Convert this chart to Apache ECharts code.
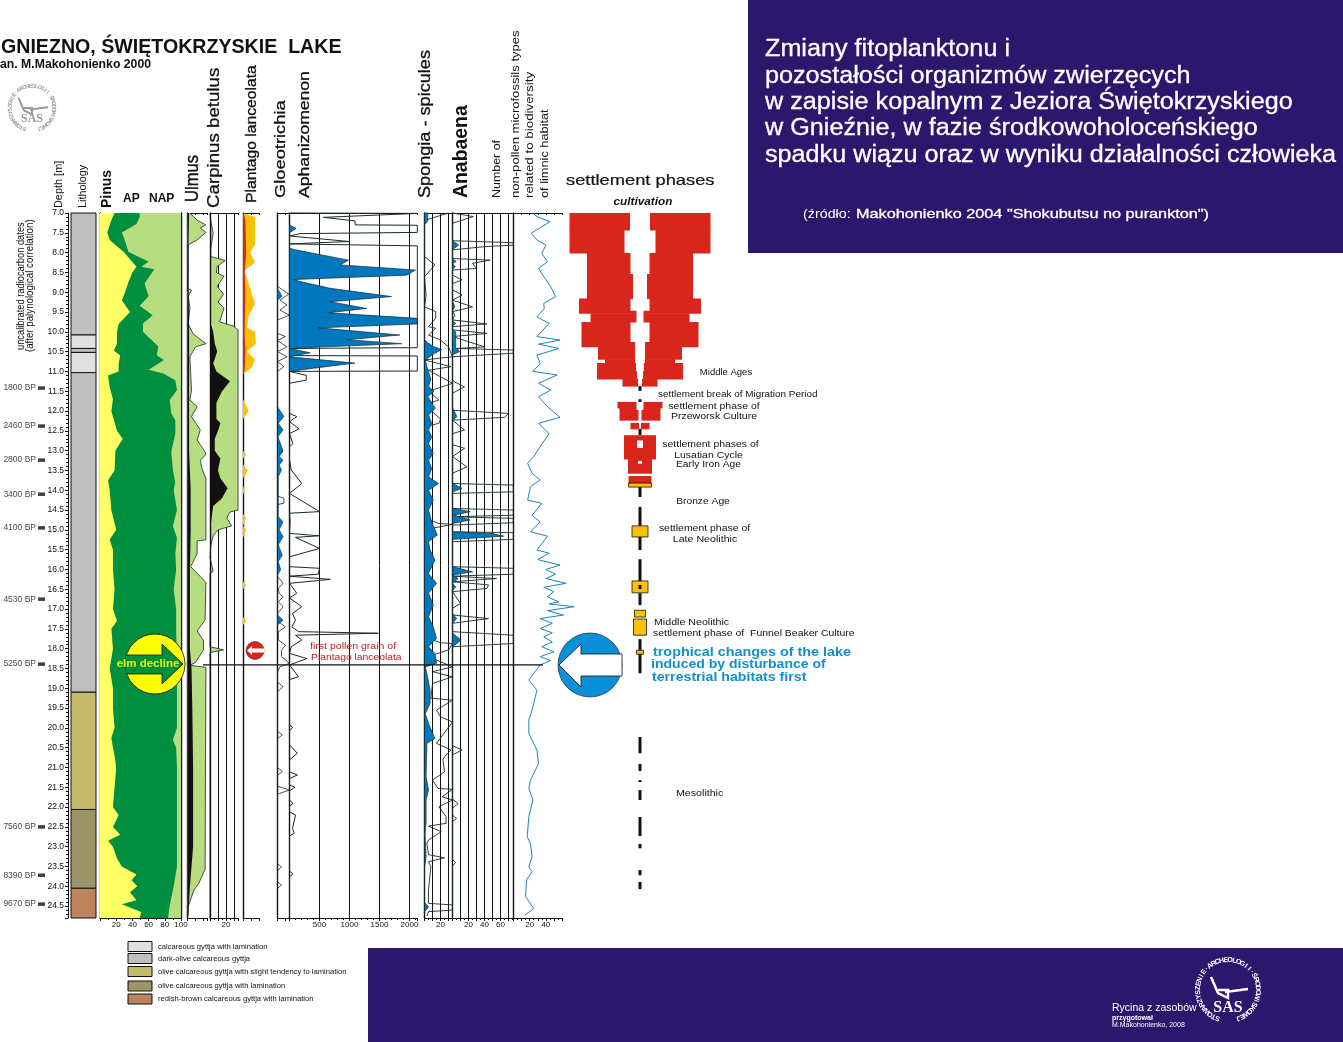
<!DOCTYPE html>
<html><head><meta charset="utf-8">
<style>html,body{margin:0;padding:0;background:#fff}#c{width:1343px;height:1042px}</style>
<script src="https://cdn.jsdelivr.net/npm/echarts@6/dist/echarts.min.js"></script>
</head><body><div id="c"></div>
<script>
// ---------- DATA: [depth m, value] ----------
const depthTicksMin=7, depthMax=24.8;
const lithologyDepths=[[7,10.08],[10.08,10.42],[10.42,10.52],[10.52,11.03],[11.03,19.1],[19.1,22.06],[22.06,24.05],[24.05,24.8]];
const lithologyColors=['#c0c0c0','#e0e0e0','#c0c0c0','#e0e0e0','#c0c0c0','#c4bc6c','#9b9469','#bc835c'];
const radiocarbon=[['1800 BP',11.42],['2460 BP',12.38],['2800 BP',13.24],['3400 BP',14.1],['4100 BP',14.95],['4530 BP',16.75],['5250 BP',18.39],['7560 BP',22.5],['8390 BP',23.72],['9670 BP',24.45]];
const elmDeclineDepth=18.41;
const nap=[[7,100],[24.8,100]];
const ap=[[7,49],[7.1,49],[7.28,45],[7.49,27],[7.77,32],[7.98,35],[8.23,60],[8.36,51],[8.42,67],[8.78,55],[9.1,60],[9.34,49],[9.58,65],[9.79,53],[10,53],[10.37,72],[10.59,70],[10.71,79],[10.96,60],[11.05,78],[11.22,93],[11.47,95],[11.72,86],[12.06,88],[12.23,93],[12.57,93],[13.03,88],[13.5,90],[13.8,93],[14,91],[14.5,95],[14.9,90],[15.2,95],[15.6,93],[16,94],[16.5,91],[17,94],[17.5,94],[18.5,95],[19.5,95],[20,95],[20.3,90],[20.5,94],[21,95],[22,95],[23.5,95],[24,91],[24.5,86],[24.8,84]];
const pinus=[[7,18],[7.18,14],[7.49,9],[7.68,12],[8,30],[8.36,45],[8.5,40],[8.75,35],[9,31],[9.2,27],[9.5,37],[9.8,23],[10,21],[10.3,21],[10.47,17],[10.6,25],[10.8,23],[11,23],[11.1,10],[11.4,12],[11.7,16],[12,14],[12.5,21],[12.7,28],[13,19],[13.5,18],[13.75,10],[14,12],[14.5,14],[15,20],[15.25,12],[15.5,16],[16,16],[16.5,18],[17,16],[17.3,21],[17.5,14],[18,16],[18.5,12],[19,16],[19.5,16],[20,18],[20.25,14],[20.5,16],[20.7,18],[21,20],[21.5,18],[22,16],[22.2,23],[22.5,16],[22.7,25],[22.85,10],[23,16],[23.3,21],[23.5,27],[23.7,45],[23.85,39],[24,46],[24.15,37],[24.35,45],[24.45,27],[24.65,51],[24.8,49]];
const ulmusExag=[[7,3],[7.18,12],[7.3,23],[7.38,16],[7.49,23],[7.68,12],[7.8,1],[8.4,1],[8.9,0],[8.95,5],[9.1,1],[9.4,3],[9.8,1],[10.05,7],[10.3,23],[10.38,10],[10.63,3],[11.05,4],[11.47,5],[11.72,3],[11.89,12],[12.14,5],[12.48,16],[12.73,12],[13.03,22],[13.1,23],[13.24,16],[13.45,18],[13.7,23],[14,23],[15.25,23],[15.28,12],[15.6,12],[15.93,4],[16.18,16],[16.33,23],[17.28,22],[17.55,12],[17.8,20],[18.03,20],[18.35,10],[18.42,3],[18.47,23],[23.57,22],[23.75,18],[23.93,14],[24.1,8],[24.5,1],[24.75,0]];
const ulmusReal=[[7,2],[8,1],[10,2],[11,2],[13,2],[14,4],[15,4],[16,3],[18,3],[18.5,5],[19.5,6],[21,7],[23,7],[24,3],[24.75,1]];
const carpinusExag=[[7,0],[7.2,1],[7.5,4],[7.9,1],[8.1,1],[8.2,19],[8.35,9],[8.5,8],[8.6,17.5],[8.85,9],[9.05,17],[9.25,10],[9.4,17.5],[9.75,12],[9.85,29],[9.95,35],[14.5,35],[14.55,25],[14.7,21],[14.9,27],[15,10],[15.15,4],[15.4,1],[15.7,0],[16.05,4],[16.1,0],[17.95,0],[18.03,17],[18.1,0],[24.8,0]];
const carpinusReal=[[7,1],[9.8,1],[10,4],[10.3,6],[10.5,9],[10.8,4],[11,8],[11.25,25],[11.5,15],[11.8,8],[12.2,8],[12.3,13],[12.5,10],[12.7,6],[13,6],[13.2,13],[13.5,10],[13.7,13],[13.95,22],[14.2,15],[14.4,4],[14.7,2],[15,0],[19.35,0],[19.4,1],[19.7,0],[24.8,0]];
const plantagoExag=[[7,0],[7.1,15],[7.8,15],[8,9],[8.25,15],[8.45,2],[8.9,9],[9.3,15],[9.6,7],[9.9,5],[10,15],[10.3,16],[10.5,5],[10.7,15],[10.9,11],[11.03,3],[11.05,0],[11.7,0],[12,7],[12.2,0],[13,0],[13.1,4],[13.2,0],[13.35,0],[13.5,6],[13.7,0],[13.9,0],[14,3],[14.1,0],[14.6,0],[14.7,4],[14.9,0],[15,4],[15.2,0],[16.3,0],[16.4,4],[16.5,0],[17.2,0],[17.3,4],[17.4,0],[24.8,0]];
const plantagoReal=[[7,1],[7.2,3],[8,4],[8.5,2],[9,3],[10,2],[10.5,3],[11,2],[11.05,0],[24.8,0]];
const gloeotrichiaReal=[[8.9,0],[9.1,5.5],[9.2,0],[11.89,0],[12.14,8],[12.31,1],[12.48,7],[12.65,0.5],[12.98,6.5],[13.03,7],[13.15,2],[13.24,7],[13.36,2],[13.49,5],[13.66,1],[14.67,1],[14.8,7],[15,2],[15.17,7],[15.38,1],[15.64,6],[15.8,1],[16.01,4],[16.14,0],[17.15,0],[17.28,7],[17.4,0]];
const gloeotrichiaExag=[[8.85,0],[9.05,14],[9.2,3],[9.32,12],[9.45,3],[9.58,15],[9.7,0],[10.04,0],[10.12,10],[10.22,0],[10.38,12],[10.5,0],[10.63,12],[10.75,0],[10.88,8],[11,0],[14.15,0],[14.2,8],[14.33,8],[14.36,0],[16.18,0],[16.35,7],[16.47,1],[16.6,2],[16.69,7],[16.82,1],[16.94,7],[17.11,0],[17.3,0],[17.45,10],[17.57,1],[17.78,1],[17.91,10],[18.04,5],[18.2,5],[18.37,15],[18.46,3],[18.58,0],[18.85,0],[18.96,7],[19.09,0],[20.08,0],[20.18,6],[20.27,0],[21,0],[21.1,6],[21.2,0],[21.47,0],[21.57,15],[21.67,0],[23.43,0],[23.51,5],[23.6,0],[23.88,0],[23.97,5],[24.05,0]];
const aphanizomenonReal=[[7.3,0],[7.39,110],[7.5,0],[7.89,0],[7.93,100],[8.19,982],[8.31,843],[8.44,2100],[8.57,1950],[8.68,66],[8.73,178],[8.9,677],[9.11,1700],[9.24,677],[9.41,1288],[9.52,650],[9.66,2130],[9.8,2130],[9.9,483],[10.08,1840],[10.2,955],[10.3,1870],[10.38,570],[10.42,10],[10.53,344],[10.63,0],[10.79,1090],[10.92,400],[11,0]];
const aphanizomenonExag=[[7,0],[7.01,2130],[7.04,2130],[7.11,566],[7.2,1093],[7.3,1093],[7.31,2130],[7.49,2130],[7.52,180],[7.58,0],[7.72,1000],[7.78,0],[7.83,2130],[10.4,2130],[10.42,0],[10.6,0],[10.61,2130],[10.99,2130],[11,0],[11.05,0],[11.1,280],[11.22,277],[11.3,0],[12.06,0],[12.14,122],[12.27,0],[12.45,160],[12.57,0],[12.82,55],[12.9,0],[13.24,0],[13.49,30],[13.83,205],[14.08,0],[14.54,500],[14.58,0],[14.79,10],[15.09,0],[15.15,500],[15.19,100],[15.22,90],[15.47,500],[15.68,0],[15.93,0],[15.97,500],[16.12,480],[16.17,0],[16.25,680],[16.35,0],[16.6,120],[16.72,0],[16.94,205],[17.11,50],[17.28,100],[17.45,40],[17.57,150],[17.61,1480],[17.66,100],[17.78,205],[17.95,30],[18.12,0],[18.25,290],[18.41,0],[18.71,150],[18.78,0],[19.93,0],[19.99,55],[20.07,0],[20.43,0],[20.64,130],[20.81,0],[21.11,0],[21.19,130],[21.28,0],[21.44,0],[21.5,90],[21.59,0],[21.82,0],[21.91,60],[21.97,0],[22.12,0],[22.2,100],[22.54,50],[22.66,80],[22.73,0],[23.61,0],[23.69,55],[23.76,0],[24.8,0]];
const spongiaReal=[[7,4],[7.2,4],[7.3,0],[10.2,0],[10.29,5],[10.38,12],[10.45,21.5],[10.55,12],[10.71,1],[10.88,3],[11.2,8],[11.38,5],[11.5,12],[11.63,4],[11.93,13.5],[12.1,5],[12.31,9],[12.48,5],[12.65,9],[12.82,5],[13.07,11],[13.24,5],[13.45,9],[13.66,5],[13.83,17.5],[14,5],[14.25,11],[14.5,5],[14.8,9],[15.13,16],[15.3,5],[15.51,7],[15.76,13],[16.1,5],[16.35,15],[16.6,5],[16.9,11],[17.19,5],[17.45,11],[17.74,15],[17.95,5],[18.12,13],[18.37,15],[18.46,1],[18.63,3],[19.05,7],[19.38,7],[19.64,1],[19.89,5],[20.27,13],[20.39,3],[21.23,2],[21.57,5],[21.82,2],[22.41,2],[22.66,0.5],[23.25,2],[23.51,0],[24.4,0],[24.52,5],[24.64,0]];
const spongiaExag=[[7,30],[7.05,31],[7.18,1],[7.26,0],[8.1,0],[8.31,13],[8.61,0],[8.86,1],[9.07,2],[9.37,0],[9.49,14],[9.66,14],[9.87,5],[9.91,14],[10.08,5],[10.21,20],[10.38,30],[10.63,35],[10.71,0],[10.88,33],[10.97,5],[11.3,35],[11.39,22],[11.5,5],[11.72,18],[11.85,0],[12.2,20],[12.31,18],[12.4,0],[14.7,0],[14.84,18],[14.86,35],[15,0],[17.7,0],[17.85,20],[17.87,35],[18.03,30],[18.2,5],[18.46,35],[18.58,10],[18.71,35],[18.88,10],[19.25,8],[19.3,35],[19.55,15],[19.72,20],[19.85,35],[20.39,15],[20.56,33],[20.73,25],[20.8,23],[21.11,25],[21.32,10],[21.53,17],[21.55,35],[21.74,22],[21.82,35],[21.99,18],[22.24,27],[22.41,27],[22.48,5],[22.62,21],[22.83,5],[22.92,3],[23.2,5],[23.28,25],[23.38,5],[23.51,8],[24.09,5],[24.43,5],[24.47,35],[24.6,35],[24.64,5],[24.75,3]];
const anabaenaReal=[[7.7,0],[7.81,7.5],[7.93,0],[8.17,0],[8.22,4.5],[8.28,0],[8.36,3.5],[8.42,0],[9.23,0],[9.37,3],[9.45,0],[9.71,0],[9.79,4],[9.85,0],[9.95,0],[10,4],[10.4,4],[10.5,9],[10.58,0],[11.92,0],[12.14,5.5],[12.25,0],[13.83,0],[13.95,12],[14.04,0],[14.46,0],[14.54,22],[14.63,2],[14.75,22],[14.84,0],[15.05,0],[15.09,50],[15.16,64],[15.24,0],[15.93,0],[16.06,25],[16.14,0],[16.23,7],[16.35,0],[16.44,4],[16.53,0],[17.11,0],[17.24,5],[17.36,0],[17.61,0],[17.78,11],[17.95,0]];
const anabaenaExag=[[7,0],[7.05,0],[7.09,26],[7.26,0],[7.7,0],[7.75,76],[7.81,76],[7.85,40],[7.93,0],[8.15,0],[8.19,47],[8.27,25],[8.4,30],[8.44,0],[8.57,0],[8.69,12],[8.78,0],[8.94,0],[9.07,12],[9.2,0],[9.37,25],[9.49,0],[9.58,3],[9.7,0],[9.8,43],[9.87,0],[9.95,0],[10.04,43],[10.12,0],[10.38,40],[10.42,5],[10.46,76],[10.54,76],[10.63,0],[11.2,0],[11.26,2],[11.39,15],[11.55,0],[11.98,0],[12.06,70],[12.16,65],[12.23,0],[12.48,15],[12.57,0],[12.85,0],[12.94,15],[13.15,0],[13.41,18],[13.57,0],[13.83,0],[13.87,76],[14.04,76],[14.08,0],[14.46,0],[14.5,76],[14.63,76],[14.67,0],[14.71,76],[14.82,76],[14.88,0],[15.05,0],[15.07,76],[15.24,76],[15.3,0],[15.93,0],[15.97,76],[16.12,76],[16.17,0],[16.23,55],[16.31,0],[16.39,45],[16.48,43],[16.56,0],[16.86,10],[16.98,0],[17.15,0],[17.24,45],[17.36,0],[17.57,0],[17.66,76],[17.87,76],[17.95,0],[20.45,0],[20.56,12],[20.68,0],[21.8,0],[21.91,7],[22.03,0],[22.2,0],[22.29,5],[22.37,0],[23.32,0],[23.4,4],[23.48,0],[24.8,0]];
const nonPollenTypes=[[7,23],[7.09,29],[7.22,45],[7.51,22],[7.68,29],[7.81,40],[8.02,35],[8.23,42],[8.4,31],[8.61,37.5],[8.86,46],[9.11,52],[9.28,37.5],[9.41,38],[9.62,29],[9.79,44],[10.12,29],[10.21,57.5],[10.31,31],[10.42,56],[10.59,29],[10.8,33],[11,24],[11.09,54],[11.3,31],[11.47,46],[11.64,31],[11.89,42],[12.16,57.5],[12.31,31],[12.57,44],[12.9,33],[13.15,25],[13.32,17.5],[13.57,23],[13.74,33],[13.91,21],[14.25,17.5],[14.33,35],[14.63,23],[14.8,33],[15.05,21],[15.16,42],[15.51,29],[15.59,44],[15.75,30],[15.89,57.5],[16,40],[16.12,52],[16.23,40],[16.35,65],[16.45,37.5],[16.56,50],[16.69,42],[16.82,56],[16.87,44],[16.94,75],[17.04,42],[17.15,62],[17.24,33],[17.36,48],[17.49,33],[17.6,48],[17.7,37.5],[17.83,48],[17.95,35],[18.08,50],[18.2,33],[18.3,46],[18.41,33],[18.79,19],[19.05,29],[19.38,25],[19.55,23],[19.8,19],[20.14,19],[20.56,29],[20.9,31],[21.32,21],[21.53,19],[21.82,24],[22.24,19],[22.75,17],[22.92,21],[23.25,23],[23.51,19],[23.63,23],[23.84,16],[24.26,15],[24.56,25],[24.73,14]];
// settlement phases: [top depth, bottom depth, half-width of cultivated band, half-width of inner gap]
const settlementRed=[[7,7.43,70.5,10],[7.43,8.01,70.5,15.5],[8.01,8.54,53,9.5],[8.54,9.16,53,7],[9.16,9.47,61,9.5],[9.47,9.53,61,3.5],[9.53,9.75,49.5,3.5],[9.75,10.26,58.5,9.5],[10.26,10.38,58.5,5],[10.38,10.69,42,5],[10.69,10.79,35,5],[10.79,10.99,43,4],[10.99,11.19,43,3],[11.19,11.37,17.5,2],[11.77,11.92,22.5,3.5],[11.92,11.97,20.5,3.5],[11.97,12.23,20.5,1.5],[12.3,12.45,9.5,1],[12.61,12.73,16,0],[12.73,12.93,16,3],[12.93,13.21,16,0],[13.21,13.25,12,0],[13.25,13.33,12,2],[13.33,13.57,12,0],[13.64,13.82,11.5,0]];
const settlementOrange=[[13.82,13.92,11.5],[14.9,15.18,8],[16.29,16.59,8],[17.03,17.2,5.5],[17.25,17.66,6.5],[18.04,18.14,3.5]];
const settlementAxis=[[11.37,11.49],[11.7,11.77],[12.45,12.61],[13.92,14.17],[14.42,14.9],[15.18,15.51],[15.74,16.29],[16.42,16.48],[16.6,16.9],[17.76,18.62],[20.23,20.64],[20.91,21.09],[21.32,21.37],[21.57,21.82],[22.25,22.73],[22.93,23.04],[23.59,23.72],[23.89,24.07]];
const legendLabels=['calcareous gyttja with lamination','dark-olive calcareous gyttja','olive calcareous gyttja with slight tendency to lamination','olive calcareous gyttja with lamination','redish-brown calcareous gyttja with lamination'];
const legendColors=['#e0e0e0','#c0c0c0','#c4bc6c','#9b9469','#bc835c'];
const titleLines=['Zmiany fitoplanktonu i','pozostałości organizmów zwierzęcych','w zapisie kopalnym z Jeziora Świętokrzyskiego','w Gnieźnie, w fazie środkowoholoceńskiego','spadku wiązu oraz w wyniku działalności człowieka'];

// ---------- COLOURS ----------
const FONT="'Liberation Sans',Arial,sans-serif";
const C={navy:'#2a186c',ap:'#008e3f',nap:'#b8dc80',pinus:'#ffff66',blue:'#0078bf',lake:'#0a90d8',orange:'#ffc000',red:'#d9261c',black:'#111',line:'#1a2a2a',nplBlue:'#1f84b8'};

const chart=echarts.init(document.getElementById('c'),null,{renderer:'canvas'});
const grids=[],xAxes=[],yAxes=[],series=[];
const TOP=213,BOTTOM=1042-918;

function panel(left,width,max,o={}){
  const g=grids.length;
  grids.push({left,width,top:TOP,bottom:BOTTOM,containLabel:false});
  const shown=o.labels||[];
  xAxes.push({gridIndex:g,type:'value',position:'bottom',min:0,max,interval:o.interval||10,
    axisLine:{show:true,onZero:false,lineStyle:{color:C.black,width:1}},
    axisTick:{show:true,length:3,lineStyle:{color:C.black}},
    minorTick:{show:!!o.minor,splitNumber:o.minor||2,length:2,lineStyle:{color:C.black}},
    axisLabel:{show:shown.length>0,fontSize:8,fontFamily:FONT,color:C.black,margin:3,
      showMinLabel:false,showMaxLabel:shown.includes(max),hideOverlap:false,formatter:v=>shown.includes(v)?String(v):''},
    splitLine:{show:!!o.grid,showMinLine:false,showMaxLine:false,lineStyle:{color:C.black,width:1}}});
  xAxes.push({gridIndex:g,type:'value',position:'top',min:0,max,interval:o.interval||10,
    axisLine:{show:true,onZero:false,lineStyle:{color:C.black,width:1}},
    axisTick:{show:true,inside:true,length:2,lineStyle:{color:C.black}},
    minorTick:{show:!!o.minor,splitNumber:o.minor||2,length:1,lineStyle:{color:C.black}},
    axisLabel:{show:false},splitLine:{show:false}});
  yAxes.push({gridIndex:g,type:'value',inverse:true,min:depthTicksMin,max:depthMax,interval:0.5,
    axisLine:{show:true,onZero:false,lineStyle:{color:C.black,width:1.4}},axisTick:{show:false},axisLabel:{show:false},splitLine:{show:false}});
  if(o.rightLine) yAxes.push({gridIndex:g,type:'value',inverse:true,position:'right',min:depthTicksMin,max:depthMax,
    axisLine:{show:true,onZero:false,lineStyle:{color:C.black,width:1.4}},axisTick:{show:false},axisLabel:{show:false},splitLine:{show:false}});
  return {x:xAxes.length-2,y:yAxes.length-(o.rightLine?2:1)};
}
function hide(p,yToo){
  [p.x,p.x+1].forEach(i=>{xAxes[i].axisLine.show=false;xAxes[i].axisTick.show=false;xAxes[i].minorTick.show=false;});
  if(yToo) yAxes[p.y].axisLine.show=false;
}
function area(p,pairs,color,z,stroke){
  series.push({type:'custom',xAxisIndex:p.x,yAxisIndex:p.y,z,silent:true,clip:false,
    data:pairs.map(d=>[d[1],d[0]]),encode:{x:0,y:1},
    renderItem(params,api){
      if(params.dataIndex!==0) return null;
      const pts=pairs.map(d=>api.coord([d[1],d[0]]));
      pts.unshift(api.coord([0,pairs[0][0]]));
      pts.push(api.coord([0,pairs[pairs.length-1][0]]));
      return {type:'polygon',shape:{points:pts},style:{fill:color,stroke:stroke||null,lineWidth:stroke?0.7:0}};
    }});
}
function outline(p,pairs,color,z,w){
  series.push({type:'line',xAxisIndex:p.x,yAxisIndex:p.y,z,silent:true,clip:false,symbol:'none',animation:false,
    data:pairs.map(d=>[d[1],d[0]]),lineStyle:{color,width:w||1},connectNulls:true});
}

// ---------- PANELS ----------
const lith=panel(71,25,100,{interval:100});
Object.assign(yAxes[lith.y],{offset:3,axisLine:{show:true,onZero:false,lineStyle:{color:C.black}},
  axisTick:{show:true,length:3,lineStyle:{color:C.black}},minorTick:{show:true,splitNumber:5,length:2,lineStyle:{color:C.black}},
  axisLabel:{show:true,fontSize:8.5,fontFamily:FONT,color:C.black,margin:4,showMaxLabel:false,formatter:v=>v.toFixed(1)}});
hide(lith,false);
series.push({type:'custom',xAxisIndex:lith.x,yAxisIndex:lith.y,z:3,silent:true,clip:false,
  data:lithologyDepths,encode:{y:[0,1]},
  renderItem(params,api){
    const a=api.coord([0,api.value(0)]),b=api.coord([100,api.value(1)]);
    return {type:'rect',shape:{x:a[0],y:a[1],width:b[0]-a[0],height:b[1]-a[1]},
      style:{fill:lithologyColors[params.dataIndex],stroke:C.black,lineWidth:1}};
  }});

const pollen=panel(100,81,100,{interval:20,minor:2,labels:[20,40,60,80,100],rightLine:true});
area(pollen,nap,C.nap,2);area(pollen,ap,C.ap,3);area(pollen,pinus,C.pinus,4);

const ulm=panel(187.5,20,25,{interval:10});
area(ulm,ulmusExag,C.nap,2);outline(ulm,ulmusExag,C.line,3,0.8);area(ulm,ulmusReal,C.black,4);

const car=panel(210,28,35,{interval:10,labels:[20],grid:true,minor:2});
area(car,carpinusExag,C.nap,0);outline(car,carpinusExag,C.line,3,0.8);area(car,carpinusReal,C.black,4);

const pla=panel(243,16,20,{interval:10});
area(pla,plantagoExag,C.orange,2);area(pla,plantagoReal,C.red,3);

const glo=panel(277.5,12,15,{interval:10});
area(glo,gloeotrichiaReal,C.blue,3);outline(glo,gloeotrichiaExag,C.line,4,0.8);outline(glo,gloeotrichiaReal,C.line,4,0.6);

const aph=panel(289.5,128,2133,{interval:500,minor:5,labels:[500,1000,1500,2000],grid:true});
outline(aph,aphanizomenonExag,C.line,3,1);area(aph,aphanizomenonReal,C.blue,4,C.line);

const spo=panel(424.5,28,35,{interval:10,labels:[20],grid:true,minor:2});
outline(spo,spongiaExag,C.line,3,0.9);area(spo,spongiaReal,C.blue,4,C.line);

const ana=panel(452.5,61,76.25,{interval:10,labels:[20,40,60],grid:true,minor:2});
outline(ana,anabaenaExag,C.line,3,0.9);area(ana,anabaenaReal,C.blue,4,C.line);

const npp=panel(513.5,48.5,60,{interval:10,labels:[20,40],minor:2});
// same scale, wider plot so that the strongest peaks overshoot the drawn axis
const nppWide=panel(513.5,72.75,90,{interval:10});hide(nppWide,true);
outline(nppWide,nonPollenTypes,C.nplBlue,3,1);

// settlement phases
const sett=panel(560,160,80,{interval:80});
xAxes[sett.x].min=-80;xAxes[sett.x+1].min=-80;
hide(sett,true);
series.push({type:'custom',xAxisIndex:sett.x,yAxisIndex:sett.y,z:3,silent:true,clip:false,data:settlementAxis,encode:{y:[0,1]},
  renderItem(p,api){const a=api.coord([-1.5,api.value(0)]),b=api.coord([1.5,api.value(1)]);
    return {type:'rect',shape:{x:a[0],y:a[1],width:b[0]-a[0],height:b[1]-a[1]},style:{fill:C.black}};}});
series.push({type:'custom',xAxisIndex:sett.x,yAxisIndex:sett.y,z:4,silent:true,clip:false,data:settlementRed,encode:{y:[0,1],x:[2,3]},
  renderItem(p,api){const d0=api.value(0),d1=api.value(1),o=api.value(2),i=api.value(3);
    const rect=(x0,x1)=>{const a=api.coord([x0,d0]),b=api.coord([x1,d1]);
      return {type:'rect',shape:{x:a[0],y:a[1],width:b[0]-a[0],height:b[1]-a[1]+0.5},style:{fill:C.red}};};
    return {type:'group',children:[rect(-o,-i),rect(i,o)]};}});
series.push({type:'custom',xAxisIndex:sett.x,yAxisIndex:sett.y,z:5,silent:true,clip:false,data:settlementOrange,encode:{y:[0,1],x:2},
  renderItem(p,api){const h=api.value(2),a=api.coord([-h,api.value(0)]),b=api.coord([h,api.value(1)]);
    return {type:'rect',shape:{x:a[0],y:a[1],width:b[0]-a[0],height:b[1]-a[1]},style:{fill:C.orange,stroke:C.black,lineWidth:0.8}};}});

// page-wide overlay on the depth scale: dating marks + elm-decline line
const ov=panel(0,1343,1343,{interval:1343});hide(ov,true);
series.push({type:'scatter',xAxisIndex:ov.x,yAxisIndex:ov.y,z:6,silent:true,symbol:'rect',symbolSize:[7,3.5],
  itemStyle:{color:C.black},data:radiocarbon.map(r=>({value:[41.5,r[1]],name:r[0]})),
  label:{show:true,position:'left',distance:2,fontSize:8.5,fontFamily:FONT,color:C.black,formatter:p=>p.name}});
series.push({type:'line',xAxisIndex:ov.x,yAxisIndex:ov.y,z:8,silent:true,symbol:'none',
  data:[[203,elmDeclineDepth],[543,elmDeclineDepth]],lineStyle:{color:C.black,width:1.2}});

// ---------- TEXT & DECORATION ----------
const g=[];
const txt=(text,size,o)=>({text,fontFamily:FONT,fontSize:size,fontWeight:o.bold?'bold':'normal',fontStyle:o.italic?'italic':'normal',
  fill:o.fill||C.black,stroke:o.heavy?(o.fill||C.black):null,lineWidth:o.heavy||0,align:o.align||'left',verticalAlign:'middle'});
const T=(text,x,y,size,o={})=>g.push({type:'text',x,y,scaleX:o.sx||1,z:o.z||20,silent:true,style:txt(text,size,o)});
const V=(text,x,y,size,o={})=>g.push({type:'text',x,y,rotation:Math.PI/2,scaleX:o.sx||1,z:20,silent:true,style:txt(text,size,o)});
g.push({type:'rect',z:-1,silent:true,shape:{x:748,y:0,width:595,height:253},style:{fill:C.navy}});
g.push({type:'rect',z:-1,silent:true,shape:{x:368,y:948,width:975,height:94},style:{fill:C.navy}});
const titleYs=[50,77,103,129,156];
titleLines.forEach((t,i)=>T(t,765,titleYs[i],23,{fill:'#fff',z:21,sx:1.095,heavy:0.3}));
T('(źródło:',803,214,13,{fill:'#fff',sx:1.1});
T('Makohonienko 2004 "Shokubutsu no purankton")',856,214,13,{fill:'#fff',sx:1.25,heavy:0.3});
T('GNIEZNO, ŚWIĘTOKRZYSKIE  LAKE',1,47,20,{bold:true,sx:0.98});
T('an. M.Makohonienko 2000',0,65,12,{bold:true,sx:1.02});
V('Depth [m]',59,208,10,{sx:1.09});V('Lithology',83,208,10,{sx:1.08});V('Pinus',107,208,14,{bold:true});
T('AP',123,199,12,{bold:true});T('NAP',149,199,12,{bold:true});
V('Ulmus',193,202,18,{sx:0.92,heavy:0.4});V('Carpinus betulus',214,208,17,{sx:1.1,heavy:0.3});V('Plantago lanceolata',252,203,14,{sx:1.12,heavy:0.3});
V('Gloeotrichia',281,198,15,{sx:1.22,heavy:0.3});V('Aphanizomenon',305,198,15,{sx:1.17,heavy:0.3});V('Spongia - spicules',425,198,17,{sx:1.065,heavy:0.3});
V('Anabaena',461,198,20,{bold:true,sx:0.97});V('Number of',497,198,11,{sx:1.13});
V('non-pollen microfossils types',516,198,11.5,{sx:1.135});V('related to biodiversity',530,198,11.5,{sx:1.16});V('of limnic habitat',545,198,11,{sx:1.16});
V('uncalibrated radiocarbon dates',21,350,10,{sx:0.93});V('(after palynological correlation)',30,352,10,{sx:0.97});
T('settlement phases',566,181,15,{sx:1.22,heavy:0.2});T('cultivation',643,202,11,{bold:true,italic:true,align:'center',sx:1.07});
[['Middle Ages',726,372,'center',1],['settlement break of Migration Period',658,394,'left',1.045],['settlement phase of',714,406,'center',1.1],['Przeworsk Culture',714,416,'center',1.11],['settlement phases of',710.5,444,'center',1.1],['Lusatian Cycle',708.5,455,'center',1.1],['Early Iron Age',708.5,464,'center',1.08],['Bronze Age',703,501,'center',1.08],['settlement phase of',704.5,528,'center',1.1],['Late Neolithic',705,539,'center',1.12],['Middle Neolithic',654,622,'left',1.12],['settlement phase of  Funnel Beaker Culture',653,633,'left',1.1],['Mesolithic',676,793,'left',1.12]]
  .forEach(r=>T(r[0],r[1],r[2],9.5,{align:r[3],sx:r[4]}));
T('trophical changes of the lake',653,652,13,{bold:true,fill:'#1090cc',sx:1.105});
T('induced by disturbance of',651,664,13,{bold:true,fill:'#1090cc',sx:1.08});
T('terrestrial habitats first',652,677,13,{bold:true,fill:'#1090cc',sx:1.09});
T('first pollen grain of',310,646,9.5,{fill:'#c02020',sx:1.11});T('Plantago lanceolata',311,657,9.5,{fill:'#c02020',sx:1.085});

// arrows
const elmPts=[[126,655],[162,655],[162,644],[183,664],[162,684],[162,674],[126,674]];
g.push({type:'circle',z:12,silent:true,shape:{cx:155,cy:664,r:30},style:{fill:'#ffff00',stroke:C.black,lineWidth:0.8}});
g.push({type:'polygon',z:13,silent:true,shape:{points:elmPts},style:{fill:C.ap}});
g.push({type:'polyline',z:14,silent:true,shape:{points:elmPts},style:{fill:null,stroke:C.black,lineWidth:0.8}});
T('elm decline',148,664,11.5,{bold:true,fill:'#e8f000',align:'center',z:30});
g.push({type:'circle',z:12,silent:true,shape:{cx:590,cy:665,r:32},style:{fill:C.lake,stroke:C.black,lineWidth:0.6}});
g.push({type:'polygon',z:13,silent:true,shape:{points:[[559,665],[581,644],[581,654],[622,654],[622,676],[581,676],[581,687]]},style:{fill:'#fff',stroke:C.black,lineWidth:0.8}});
g.push({type:'circle',z:12,silent:true,shape:{cx:255,cy:650.5,r:9},style:{fill:C.red,stroke:C.black,lineWidth:0.5}});
g.push({type:'polygon',z:13,silent:true,shape:{points:[[247,650.5],[252,646],[252,648.5],[264,648.5],[264,652.5],[252,652.5],[252,655]]},style:{fill:'#fff'}});
g.push({type:'rect',z:10,silent:true,shape:{x:638.5,y:585,width:3,height:4},style:{fill:C.black}});

// legend
const legendYs=[946.5,958.5,971.5,986,999];
legendLabels.forEach((t,i)=>{
  g.push({type:'rect',silent:true,shape:{x:128,y:legendYs[i]-5,width:24,height:10},style:{fill:legendColors[i],stroke:C.black,lineWidth:1}});
  T(t,158,legendYs[i],8,{sx:0.95});
});
T('Rycina z zasobów',1112,1008,10.5,{fill:'#fff',sx:1});
T('przygotował',1112,1018,7,{fill:'#fff',bold:true});T('M.Makohonienko, 2008',1112,1025,7,{fill:'#fff'});

// logos
function logo(cx,cy,r,col,sc,fs,sasDy,sasFs){
  const ring='STOWARZYSZENIE ARCHEOLOGII ŚRODOWISKOWEJ';
  const start=110/180*Math.PI,span=320/180*Math.PI;
  for(let i=0;i<ring.length;i++){
    const a=start+i/(ring.length-1)*span;
    g.push({type:'text',x:cx+r*Math.cos(a),y:cy+r*Math.sin(a),rotation:-a-Math.PI/2,z:20,silent:true,
      style:{text:ring[i]===' '?'·':ring[i],fontFamily:FONT,fontSize:fs,fontWeight:'bold',fill:col,align:'center',verticalAlign:'middle'}});
  }
  const P=a=>a.map(q=>[cx+q[0]*sc,cy+q[1]*sc]);
  g.push({type:'polyline',z:20,silent:true,shape:{points:P([[-17,-13],[-10,3],[0,8],[0,0],[-10,0]])},style:{fill:null,stroke:col,lineWidth:2.5*sc}});
  g.push({type:'polyline',z:20,silent:true,shape:{points:P([[-3,2],[20,-1]])},style:{fill:null,stroke:col,lineWidth:2.5*sc}});
  g.push({type:'text',x:cx,y:cy+sasDy,z:20,silent:true,style:{text:'SAS',fontFamily:"'Liberation Serif',serif",fontSize:sasFs,fontWeight:'bold',fill:col,align:'center',verticalAlign:'middle'}});
}
logo(32,108,22,'#9a9a9a',0.8,5.5,11,12);
logo(1228,990,30,'#fff',1,7,18,16);

chart.setOption({animation:false,backgroundColor:'#fff',grid:grids,xAxis:xAxes,yAxis:yAxes,series,graphic:{elements:g}});
</script></body></html>
